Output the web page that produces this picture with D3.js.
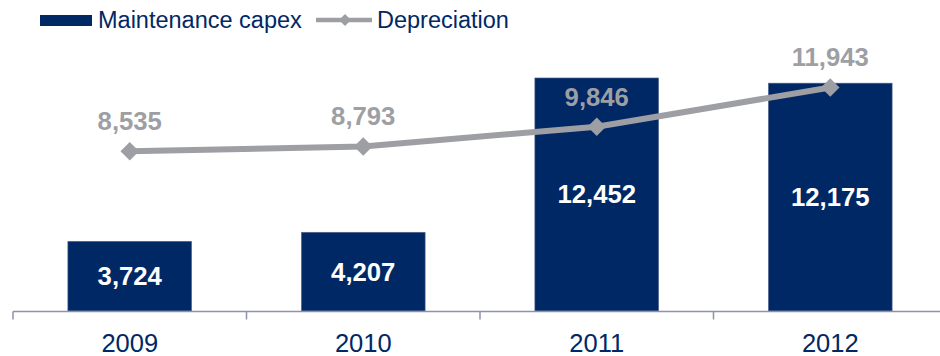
<!DOCTYPE html>
<html>
<head>
<meta charset="utf-8">
<script src="https://cdn.jsdelivr.net/npm/d3@7"></script>
<style>
  body { margin: 0; background: #fff; }
  svg { display: block; font-family: "Liberation Sans", Arial, sans-serif; }
</style>
</head>
<body>
<div id="chart"></div>
<script>
// data
var years = ["2009", "2010", "2011", "2012"];
var capex = [3724, 4207, 12452, 12175];
var depreciation = [8535, 8793, 9846, 11943];
var seriesNames = ["Maintenance capex", "Depreciation"];

var width = 940, height = 356;
var navy = "#002864", grey = "#9e9fa4", axisCol = "#8d93a8";

var svg = d3.select("#chart").append("svg")
  .attr("width", width)
  .attr("height", height);

// scales
var x = d3.scaleBand()
  .domain(years)
  .range([13, 947])
  .paddingInner(0.47)
  .paddingOuter(0.235);

var y = d3.scaleLinear()
  .domain([0, 14000])
  .range([311, 49]);

// bars
svg.selectAll(".bar")
  .data(capex)
  .enter().append("rect")
  .attr("class", "bar")
  .attr("x", function(d, i) { return x(years[i]); })
  .attr("y", function(d) { return y(d); })
  .attr("width", x.bandwidth())
  .attr("height", function(d) { return y(0) - y(d); })
  .style("fill", navy)
  .style("stroke", "#5a6a94")
  .style("stroke-width", 0.6);

// bar labels
svg.selectAll(".barlab")
  .data(capex)
  .enter().append("text")
  .attr("class", "barlab")
  .attr("x", function(d, i) { return x(years[i]) + x.bandwidth() / 2; })
  .attr("y", function(d) { return (y(d) + y(0)) / 2 + 9; })
  .attr("text-anchor", "middle")
  .style("font-size", "25.7px")
  .style("font-weight", "bold")
  .style("fill", "#fff")
  .text(function(d) { return d3.format(",")(d); });

// x axis: line with ticks at band edges
var ay = 311.5;
var edges = years.map(function(d) { return x(d) - x.step() * x.paddingOuter(); });
svg.append("line")
  .attr("x1", 13).attr("x2", width)
  .attr("y1", ay).attr("y2", ay)
  .style("stroke", axisCol).style("stroke-width", 1.5);
svg.selectAll(".edge")
  .data(edges)
  .enter().append("line")
  .attr("class", "edge")
  .attr("x1", function(d) { return d; }).attr("x2", function(d) { return d; })
  .attr("y1", ay).attr("y2", ay + 8)
  .style("stroke", axisCol).style("stroke-width", 1.5);

var xAxis = svg.append("g")
  .attr("transform", "translate(0," + ay + ")")
  .call(d3.axisBottom(x).tickSize(0).tickPadding(0));
xAxis.select(".domain").remove();
xAxis.selectAll("text")
  .attr("dy", null)
  .attr("y", 40)
  .style("font-family", "\"Liberation Sans\", Arial, sans-serif")
  .style("font-size", "25.5px")
  .style("fill", navy);

// depreciation line
var cx = function(i) { return x(years[i]) + x.bandwidth() / 2; };
var line = d3.line()
  .x(function(d, i) { return cx(i); })
  .y(function(d) { return y(d); });

svg.append("path")
  .datum(depreciation)
  .attr("d", line)
  .style("fill", "none")
  .style("stroke", grey)
  .style("stroke-width", 6);

var diamond = d3.symbol().type(d3.symbolDiamond2).size(220);
svg.selectAll(".pt")
  .data(depreciation)
  .enter().append("path")
  .attr("class", "pt")
  .attr("d", diamond)
  .attr("transform", function(d, i) { return "translate(" + cx(i) + "," + y(d) + ")"; })
  .style("fill", grey);

svg.selectAll(".linelab")
  .data(depreciation)
  .enter().append("text")
  .attr("class", "linelab")
  .attr("x", function(d, i) { return cx(i); })
  .attr("y", function(d) { return y(d) - 21; })
  .attr("text-anchor", "middle")
  .style("font-size", "25.7px")
  .style("font-weight", "bold")
  .style("fill", grey)
  .text(function(d) { return d3.format(",")(d); });

// legend
var legend = svg.append("g");
legend.append("rect")
  .attr("x", 40).attr("y", 15)
  .attr("width", 52).attr("height", 11)
  .style("fill", navy);
legend.append("text")
  .attr("x", 98).attr("y", 28)
  .style("font-size", "23.5px")
  .style("fill", navy)
  .text(seriesNames[0]);

legend.append("line")
  .attr("x1", 316).attr("x2", 372)
  .attr("y1", 20).attr("y2", 20)
  .style("stroke", grey).style("stroke-width", 4.5);
legend.append("path")
  .attr("d", d3.symbol().type(d3.symbolDiamond2).size(90))
  .attr("transform", "translate(345,20)")
  .style("fill", grey);
legend.append("text")
  .attr("x", 377).attr("y", 28)
  .style("font-size", "23.5px")
  .style("fill", navy)
  .text(seriesNames[1]);
</script>
</body>
</html>
